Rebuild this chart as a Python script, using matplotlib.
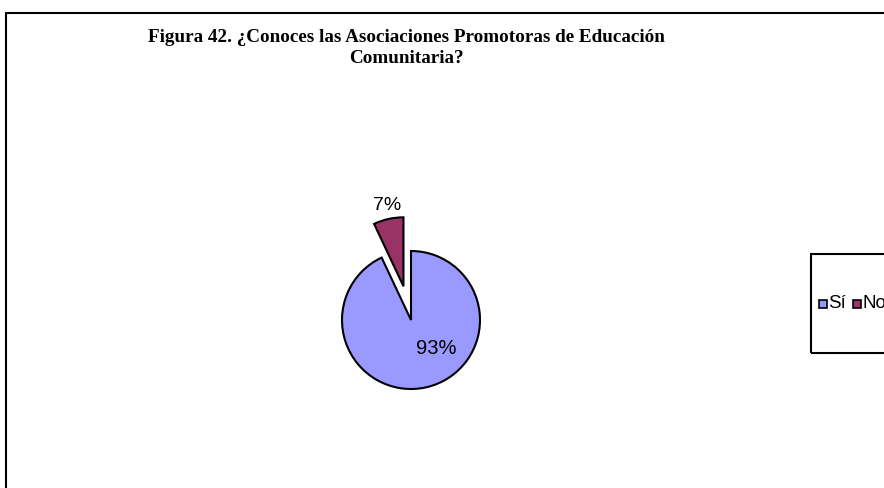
import matplotlib
matplotlib.use("Agg")
import matplotlib.pyplot as plt
from matplotlib.patches import Rectangle

# datos de la figura
categorias = ['Sí', 'No']
porcentajes = [93, 7]
colores = ['#9999ff', '#993366']
separacion = [0, 0.5]

fig = plt.figure(figsize=(8.84, 4.88), dpi=100)

# marco exterior del grafico (se sale por la derecha y abajo)
fig.patches.append(Rectangle((6 / 884, -0.05), 1.0, 1 - 13 / 488 + 0.05,
                             transform=fig.transFigure, fill=False,
                             edgecolor='black', linewidth=1.5))

# titulo en dos lineas
fig.text(406 / 884, 1 - 42 / 488, 'Figura 42. ¿Conoces las Asociaciones Promotoras de Educación',
         ha='center', va='baseline', fontsize=13.8, fontweight='bold', family='Liberation Serif')
fig.text(406 / 884, 1 - 63 / 488, 'Comunitaria?',
         ha='center', va='baseline', fontsize=13.8, fontweight='bold', family='Liberation Serif')

# pie: centro ~ (411, 320) px, radio ~ 69 px
r = 69
cx, cy = 411, 320
ax = fig.add_axes([(cx - r) / 884, 1 - (cy + r) / 488, 2 * r / 884, 2 * r / 488])
wedges, textos = ax.pie(porcentajes, colors=colores, startangle=90, counterclock=False,
                        explode=separacion,
                        wedgeprops={'edgecolor': 'black', 'linewidth': 1.5})
ax.set_xlim(-1, 1)
ax.set_ylim(-1, 1)
ax.set_aspect('auto')
ax.axis('off')
for w in wedges:
    w.set_clip_on(False)

# etiquetas de porcentaje
ax.text(0.37, -0.42, f'{porcentajes[0]}%', ha='center', va='center', fontsize=14.5,
        family='Liberation Sans')
ax.text(-0.34, 1.66, f'{porcentajes[1]}%', ha='center', va='center', fontsize=14,
        family='Liberation Sans')

# leyenda recortada a la derecha
fig.patches.append(Rectangle((811 / 884, 1 - 353 / 488), 0.2, 99 / 488,
                             transform=fig.transFigure, fill=False,
                             edgecolor='black', linewidth=1.5))
for x0, nombre, color in zip([819, 853], categorias, colores):
    fig.patches.append(Rectangle((x0 / 884, 1 - 307.5 / 488), 8 / 884, 8 / 488,
                                 transform=fig.transFigure, facecolor=color,
                                 edgecolor='black', linewidth=1.2))
    fig.text((x0 + 9) / 884, 1 - 304 / 488, nombre, ha='left', va='center',
             fontsize=13.5, family='Liberation Sans')

fig.savefig('out.png', dpi=100)
